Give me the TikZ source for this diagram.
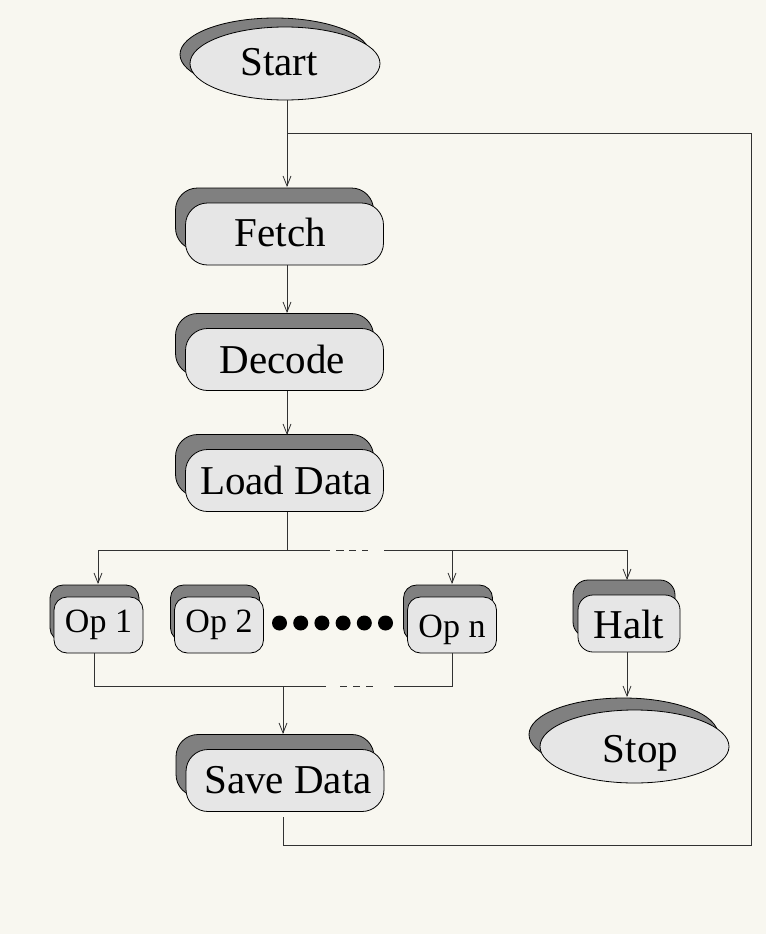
\documentclass[tikz,border=0pt]{standalone}
\usepackage{fontspec}
\setmainfont{Liberation Serif}
\usetikzlibrary{arrows.meta,shadows,shapes.geometric}
\definecolor{bg}{RGB}{248,247,240}
\definecolor{boxfill}{RGB}{230,230,230}
\definecolor{shade}{RGB}{128,128,128}
\definecolor{ln}{RGB}{50,50,50}
\newcommand{\shiftxt}[3]{\raisebox{#2}[\height][\depth]{\kern#1#3}}
\tikzset{
  big/.style={font=\fontsize{41}{48}\selectfont},
  small/.style={font=\fontsize{34}{40}\selectfont},
  boxbase/.style={draw=black, line width=0.8pt, fill=boxfill, inner sep=0pt, rounded corners=22pt},
  mainbox/.style={boxbase, big, minimum width=198pt, minimum height=62pt,
     general shadow={shadow xshift=-10pt, shadow yshift=15pt, fill=shade, draw=black, line width=0.8pt}},
  opbox/.style={boxbase, small, rounded corners=13pt, minimum width=89pt, minimum height=56pt,
     general shadow={shadow xshift=-4pt, shadow yshift=12pt, fill=shade, draw=black, line width=0.8pt}},
  haltbox/.style={boxbase, big, rounded corners=15pt, minimum width=102pt, minimum height=57pt,
     general shadow={shadow xshift=-5pt, shadow yshift=15pt, fill=shade, draw=black, line width=0.8pt}},
  term/.style={draw=black, line width=0.8pt, fill=boxfill, ellipse, inner sep=0pt, big,
     minimum width=190pt, minimum height=73pt},
  conn/.style={draw=ln, line width=0.8pt},
  arr/.style={conn, -{Straight Barb[length=10pt,width=8pt,line width=0.8pt]}},
}
\begin{document}
\begin{tikzpicture}[x=1pt,y=-1pt]
\fill[bg] (0,0) rectangle (766,934);
\useasboundingbox (0,0) rectangle (766,934);

% terminals with shadows
\node[term, fill=shade, draw=black] (startsh) at (275,54.5) {\phantom{Start}};
\node[term] (start) at (285,63.5) {\shiftxt{-12pt}{1pt}{Start}};
\node[term, fill=shade, draw=black, minimum width=189pt] (stopsh) at (623.5,734.5) {\phantom{Stop}};
\node[term, minimum width=189pt] (stop) at (634.5,746.5) {\shiftxt{12pt}{-7pt}{Stop}};

% process boxes
\node[mainbox] (fetch) at (284.5,234) {\shiftxt{-8pt}{2pt}{Fetch}};
\node[mainbox] (decode) at (284.5,359.5) {\shiftxt{-4pt}{0pt}{Decode}};
\node[mainbox] (load) at (284.5,480.5) {\shiftxt{3pt}{0pt}{Load Data}};
\node[mainbox] (save) at (285,780.5) {\shiftxt{6pt}{0pt}{Save Data}};
\node[opbox] (op1) at (98.5,625) {Op 1};
\node[opbox] (op2) at (219,625) {Op 2};
\node[opbox] (opn) at (452,625) {\shiftxt{0pt}{-5pt}{Op n}};
\node[haltbox] (halt) at (629,623.5) {\shiftxt{0pt}{-1pt}{Halt}};

% dots
\foreach \i in {0,...,5} \fill (279.5+21.2*\i,623) circle (7.5pt);

% entry points on the shadows
\coordinate (fetchIn) at (287,187);
\coordinate (decodeIn) at (287,313);
\coordinate (loadIn) at (287,435);
\coordinate (op1In) at (98,584);
\coordinate (opnIn) at (452,584);
\coordinate (haltIn) at (627,580);
\coordinate (stopIn) at (627,697);
\coordinate (saveIn) at (283,734);
\coordinate (saveOut) at (283,817);
\coordinate (loopIn) at (287,133);
\coordinate (op1Out) at (94,653);
\coordinate (opnOut) at (452,653);

% connectors
\draw[arr] (start.south -| loopIn) -- (fetchIn);
\draw[conn] (saveOut) -- (283,845) -- (751,845) -- (751,133) -- (loopIn);
\draw[arr] (fetch.south -| fetchIn) -- (decodeIn);
\draw[arr] (decode.south -| decodeIn) -- (loadIn);
\draw[conn] (load.south -| loadIn) -- (287,550);
% top fan-out line
\draw[conn] (98,550) -- (330,550);
\draw[conn] (336,550) -- (344,550) (349,550) -- (356,550) (362,550) -- (368,550);
\draw[conn] (384,550) -- (627,550);
\draw[arr] (98,550) -- (op1In);
\draw[arr] (452,550) -- (opnIn);
\draw[arr] (627,550) -- (haltIn);
\draw[arr] (halt.south -| haltIn) -- (stopIn);
% bottom merge line
\draw[conn] (op1Out) -- (94,686) -- (326,686);
\draw[conn] (340,686) -- (347,686) (353,686) -- (360,686) (366,686) -- (373,686);
\draw[conn] (394,686) -- (452,686) -- (opnOut);
\draw[arr] (283,686) -- (saveIn);
\end{tikzpicture}
\end{document}
